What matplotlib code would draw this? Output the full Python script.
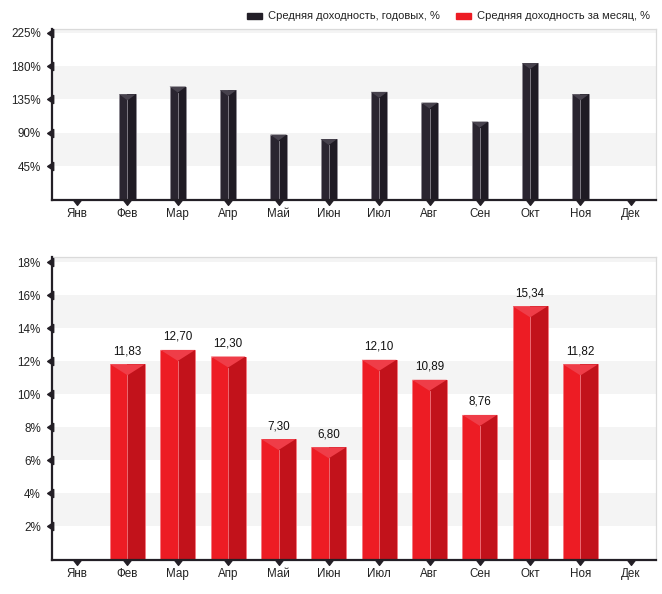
import numpy as np
import matplotlib.pyplot as plt
from matplotlib.patches import Polygon, Rectangle
from matplotlib.path import Path

plt.rcParams['font.family'] = ['Liberation Sans', 'DejaVu Sans']

months = ['Янв', 'Фев', 'Мар', 'Апр', 'Май', 'Июн',
          'Июл', 'Авг', 'Сен', 'Окт', 'Ноя', 'Дек']
# average yield, annualised, %
annual_yield = [np.nan, 141.9, 152.4, 147.6, 87.6, 81.6,
                145.2, 130.7, 105.1, 184.1, 141.8, np.nan]
# average yield per month, %
monthly_yield = [np.nan, 11.83, 12.70, 12.30, 7.30, 6.80,
                 12.10, 10.89, 8.76, 15.34, 11.82, np.nan]
annual_ticks = [45, 90, 135, 180, 225]
monthly_ticks = [2, 4, 6, 8, 10, 12, 14, 16, 18]

W, H = 662, 594
AXIS = '#231F26'
BAND = '#F4F4F4'
BORDER = '#DADADA'
TEXT = '#222222'

fig = plt.figure(figsize=(W / 100, H / 100), dpi=100)


def px_axes(left, top, right, bottom):
    return fig.add_axes([left / W, 1 - bottom / H, (right - left) / W, (bottom - top) / H])


def style_axes(ax, ymax, ticks, step):
    ax.set_xlim(-0.5, len(months) - 0.5)
    ax.set_ylim(0, ymax)
    # alternating grey bands
    for lo in np.arange(step, ymax + step, 2 * step):
        ax.axhspan(lo, lo + step, color=BAND, zorder=0, lw=0)
    ax.set_xticks(range(len(months)))
    ax.set_xticklabels(months)
    ax.set_yticks(ticks)
    ax.set_yticklabels([f'{t}%' for t in ticks])
    ax.tick_params(length=0, labelsize=8.4, labelcolor=TEXT)
    ax.tick_params(axis='y', pad=8)
    ax.tick_params(axis='x', pad=6)
    for s in ('left', 'bottom'):
        ax.spines[s].set_color(AXIS)
        ax.spines[s].set_linewidth(1.6)
        ax.spines[s].set_zorder(5)
    for s in ('top', 'right'):
        ax.spines[s].set_color(BORDER)
        ax.spines[s].set_linewidth(0.9)

    left_tri = Path([(0.3, -1), (0.3, 1), (-1.2, 0), (0.3, -1)],
                    [Path.MOVETO, Path.LINETO, Path.LINETO, Path.CLOSEPOLY])
    down_tri = Path([(-1, 0), (1, 0), (0, -1.3), (-1, 0)],
                    [Path.MOVETO, Path.LINETO, Path.LINETO, Path.CLOSEPOLY])
    ax.plot([0] * len(ticks), ticks, transform=ax.get_yaxis_transform(),
            marker=left_tri, ms=7, ls='none', color=AXIS, clip_on=False, zorder=6)
    ax.plot(range(len(months)), [0] * len(months), transform=ax.get_xaxis_transform(),
            marker=down_tri, ms=7, ls='none', color=AXIS, clip_on=False, zorder=6)


def draw_bars(ax, values, width, face, side, cap, edge, cap_px, ymax):
    v = np.array(values, float)
    x = np.arange(len(v))[~np.isnan(v)]
    v = v[~np.isnan(v)]
    ax.bar(x, v, width, color=face, edgecolor=edge, linewidth=0.6, zorder=2)
    ax.bar(x, v, width / 2, align='edge', color=side, linewidth=0, zorder=2)
    depth = cap_px * ymax / (ax.get_position().height * H)
    for xi, vi in zip(x, v):
        ax.add_patch(Polygon([(xi - width / 2, vi), (xi + width / 2, vi), (xi, vi - depth)],
                             closed=True, facecolor=cap, edgecolor='none', zorder=3))
        ax.plot([xi, xi], [0, vi - depth], color=edge, lw=0.6, zorder=3)
    return x, v


# upper chart: annualised yield
ax_top = px_axes(52, 29, 656, 199.5)
top_max = 230
style_axes(ax_top, top_max, annual_ticks, 45)
draw_bars(ax_top, annual_yield, 0.33, '#2A2530', '#1F1B24', '#47424D', '#8E8A93', 6, top_max)

# lower chart: monthly yield with value labels
ax_bot = px_axes(52, 257, 656, 559.5)
bot_max = 18.33
style_axes(ax_bot, bot_max, monthly_ticks, 2)
xs, vs = draw_bars(ax_bot, monthly_yield, 0.69, '#ED1C24', '#C2121B', '#EF3D48', '#F47880', 11, bot_max)
for xi, vi in zip(xs, vs):
    ax_bot.annotate(f'{vi:.2f}'.replace('.', ','), (xi, vi), xytext=(0, 5),
                    textcoords='offset points', ha='center', va='bottom',
                    fontsize=8.4, color='#111111')

# legend along the top
legend_items = [('Средняя доходность, годовых, %', '#231F28', 247),
                ('Средняя доходность за месяц, %', '#ED1C24', 456)]
for label, color, x0 in legend_items:
    fig.add_artist(Rectangle((x0 / W, 1 - 19 / H), 15 / W, 6 / H,
                             transform=fig.transFigure, color=color))
    fig.text((x0 + 21) / W, 1 - 16 / H, label, va='center', ha='left',
             fontsize=8, color=TEXT)

fig.savefig('out.png', dpi=100)
